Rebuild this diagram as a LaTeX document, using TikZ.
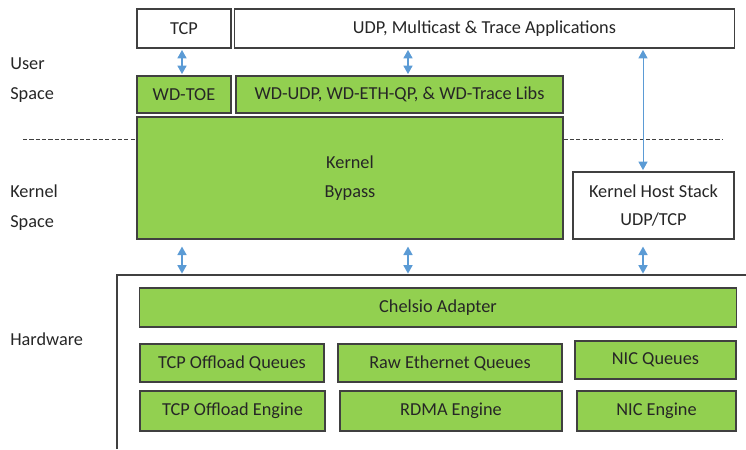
\documentclass[tikz,border=0pt]{standalone}
\usepackage{fontspec}
\setmainfont{Carlito}
\usetikzlibrary{arrows.meta}
\definecolor{boxgreen}{HTML}{92D050}
\definecolor{arrowblue}{HTML}{5B9BD5}
\definecolor{edgegray}{HTML}{404040}

\begin{document}
\begin{tikzpicture}[x=0.025cm, y=-0.025cm,
		every node/.style={font=\fontsize{13}{20.5}\selectfont, text=black!85, inner sep=0pt},
		greenbox/.style={draw=edgegray, line width=0.8pt, rectangle, fill=boxgreen, align=center},
		whitebox/.style={draw=edgegray, line width=0.8pt, rectangle, fill=white, align=center},
		sidelabel/.style={anchor=west, align=left, font=\fontsize{13}{21.5}\selectfont},
		biarrow/.style={draw=arrowblue, line width=0.9pt, {Triangle[width=6.5pt,length=6pt]}-{Triangle[width=6.5pt,length=6pt]}, shorten <=1pt, shorten >=1pt}]
				\useasboundingbox (0, 0) rectangle (746, 449);
				% side labels
				\node[sidelabel] (user) at (10, 80) {User\\Space};
				\node[sidelabel] (kernel) at (10, 208) {Kernel\\Space};
				\node[sidelabel] (hardware) at (10, 339) {Hardware};
				% user space
				\node[whitebox, minimum width=2.35cm, minimum height=0.975cm] (TCP) at (184, 28.5) {TCP};
				\node[whitebox, minimum width=12.475cm, minimum height=0.975cm] (UDPapp) at (484.5, 28.5) {UDP, Multicast \& Trace Applications};
				\node[greenbox, minimum width=2.35cm, minimum height=0.925cm] (WDTOE) at (184, 94.5) {WD-TOE};
				\node[greenbox, minimum width=8.175cm, minimum height=0.925cm] (WDUDP) at (399.5, 94.5) {WD-UDP, WD-ETH-QP, \& WD-Trace Libs};
				% kernel space
				\node[greenbox, minimum width=10.65cm, minimum height=3.05cm] (KB) at (350, 178) {Kernel\\Bypass};
				\node[whitebox, minimum width=4.025cm, minimum height=1.675cm] (KHS) at (653.5, 205.5) {Kernel Host Stack\\UDP/TCP};
				\coordinate (dl) at (23, 139);
				\coordinate (dr) at (722, 139);
				\draw[edgegray, line width=0.6pt, dash pattern=on 3pt off 1.5pt] (dl) -- (KB.west |- dl);
				\draw[edgegray, line width=0.6pt, dash pattern=on 3pt off 1.5pt] (KB.east |- dr) -- (dr);
				% hardware
				\coordinate (hw) at (117, 275);
				\draw[edgegray, line width=0.8pt] (117, 449) -- (hw) -- (746, 275);
				\node[greenbox, minimum width=14.9cm, minimum height=0.975cm] (CA) at (438, 307.5) {Chelsio Adapter};
				\node[greenbox, minimum width=4.6cm, minimum height=0.95cm] (TOQ) at (232, 363) {TCP Offload Queues};
				\node[greenbox, minimum width=5.6cm, minimum height=0.95cm] (REQ) at (450, 363) {Raw Ethernet Queues};
				\node[greenbox, minimum width=4.025cm, minimum height=0.95cm] (NICQ) at (655.5, 360) {NIC Queues};
				\node[greenbox, minimum width=4.625cm, minimum height=1.0cm] (TOE) at (232.5, 411) {TCP Offload Engine};
				\node[greenbox, minimum width=5.55cm, minimum height=1.0cm] (RDMA) at (451, 411) {RDMA Engine};
				\node[greenbox, minimum width=3.975cm, minimum height=1.0cm] (NICE) at (656.5, 411) {NIC Engine};
				% arrows
				\coordinate (a1) at (182, 0);
				\coordinate (a2) at (408, 0);
				\coordinate (a3) at (643, 0);
				\draw[biarrow] (TCP.south -| a1) -- (WDTOE.north -| a1);
				\draw[biarrow] (UDPapp.south -| a2) -- (WDUDP.north -| a2);
				\draw[biarrow, line width=0.6pt] (UDPapp.south -| a3) -- (KHS.north -| a3);
				\draw[biarrow, shorten <=5pt] (KB.south -| a1) -- (hw -| a1);
				\draw[biarrow, shorten <=5pt] (KB.south -| a2) -- (hw -| a2);
				\draw[biarrow, shorten <=5pt] (KHS.south -| a3) -- (hw -| a3);
			\end{tikzpicture}
\end{document}
